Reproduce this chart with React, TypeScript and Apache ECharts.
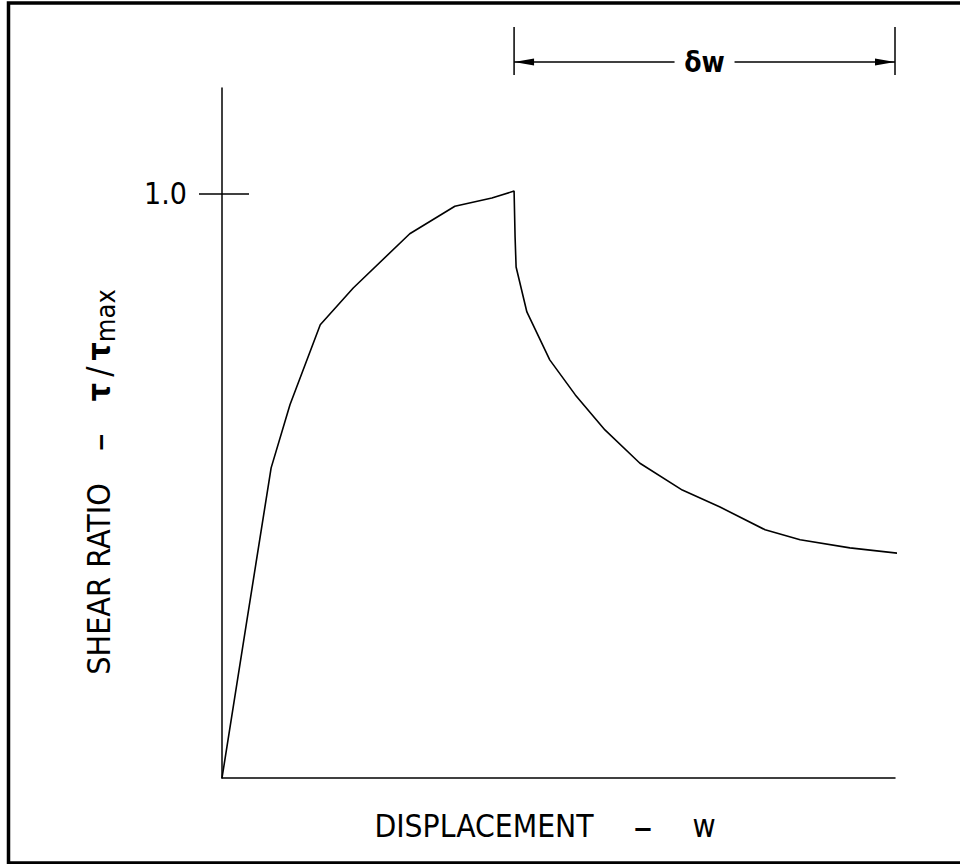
import React, { useEffect, useRef } from "react";
import * as echarts from "echarts";

// Displacement w (arbitrary units, axis spans 0..100) and shear ratio tau/tau_max
const displacement = [0, 3.7, 7.3, 10.1, 14.6, 19.5, 27.9, 34.6, 40.1, 43.4, 43.55, 43.7, 45.3, 48.7, 52.5, 56.9, 62.1, 68.4, 74.0, 80.7, 85.9, 93.3, 100.4];
const shearRatio = [0, 0.27, 0.531, 0.639, 0.776, 0.839, 0.932, 0.979, 0.993, 1.005, 0.926, 0.875, 0.798, 0.716, 0.656, 0.596, 0.539, 0.493, 0.464, 0.425, 0.408, 0.394, 0.385];

const xMax = 100;
const yMax = 1.1815;
const yTickValues = [1.0];
const yTickLabels = ["1.0"];
const xTitleParts = ["DISPLACEMENT", "–", "w"];
const yTitleParts = ["SHEAR RATIO", "–", "τ", "/", "τ", "max"];
const dimLabel = "δw";

const FONT = "'Liberation Sans Narrow', 'DejaVu Sans Condensed', 'Liberation Sans', sans-serif";
const BLACK = "#000";

export default function App() {
  const ref = useRef<HTMLDivElement>(null);

  useEffect(() => {
    if (!ref.current) return;
    const chart = echarts.init(ref.current, undefined, { renderer: "svg" });
    const axisLineStyle = { color: BLACK, width: 1.5 };
    chart.setOption({
      animation: false,
      backgroundColor: "#fff",
      grid: { left: 222, right: 65, top: 88, bottom: 86, containLabel: false, outerBoundsMode: "none" },
      xAxis: {
        type: "value",
        min: 0,
        max: xMax,
        axisLine: { show: true, onZero: false, lineStyle: axisLineStyle },
        axisTick: { show: false },
        axisLabel: { show: false },
        splitLine: { show: false },
      },
      yAxis: [
        {
          type: "value",
          min: 0,
          max: yMax,
          axisLine: { show: true, onZero: false, lineStyle: axisLineStyle },
          axisTick: { show: true, customValues: yTickValues, length: 23, lineStyle: axisLineStyle },
          axisLabel: {
            show: true,
            customValues: yTickValues,
            formatter: (v: number) => {
              const i = yTickValues.indexOf(v);
              return i >= 0 ? yTickLabels[i] : "";
            },
            fontSize: 30,
            fontFamily: FONT,
            color: BLACK,
            margin: 35,
          },
          splitLine: { show: false },
        },
        {
          type: "value",
          min: 0,
          max: yMax,
          position: "left",
          axisLine: { show: false },
          axisTick: { show: true, inside: true, customValues: yTickValues, length: 27, lineStyle: axisLineStyle },
          axisLabel: { show: false },
          splitLine: { show: false },
        },
      ],
      series: [
        {
          type: "line",
          data: displacement.map((x, i) => [x, shearRatio[i]]),
          symbol: "none",
          clip: false,
          yAxisIndex: 0,
          lineStyle: { color: BLACK, width: 1.6 },
        },
      ],
    });

    // dimension line "δw" from the peak to the end of the axis
    let peakIdx = 0;
    shearRatio.forEach((v, i) => {
      if (v > shearRatio[peakIdx]) peakIdx = i;
    });
    const px0 = chart.convertToPixel({ xAxisIndex: 0 }, displacement[peakIdx]) as number;
    const px1 = chart.convertToPixel({ xAxisIndex: 0 }, xMax) as number;
    const mid = (px0 + px1) / 2;
    const dimY = 62;
    const thin = { stroke: BLACK, lineWidth: 1.5 };

    chart.setOption({
      graphic: [
        { type: "rect", silent: true, shape: { x: 8.5, y: 3, width: 1000, height: 860 }, style: { fill: "none", stroke: BLACK, lineWidth: 3.5 } },
        { type: "line", silent: true, shape: { x1: px0, y1: 27, x2: px0, y2: 75 }, style: thin },
        { type: "line", silent: true, shape: { x1: px1, y1: 27, x2: px1, y2: 75 }, style: thin },
        { type: "line", silent: true, shape: { x1: px0, y1: dimY, x2: mid - 30, y2: dimY }, style: thin },
        { type: "line", silent: true, shape: { x1: mid + 30, y1: dimY, x2: px1, y2: dimY }, style: thin },
        { type: "polygon", silent: true, shape: { points: [[px0, dimY], [px0 + 20, dimY - 3.5], [px0 + 20, dimY + 3.5]] }, style: { fill: BLACK } },
        { type: "polygon", silent: true, shape: { points: [[px1, dimY], [px1 - 20, dimY - 3.5], [px1 - 20, dimY + 3.5]] }, style: { fill: BLACK } },
        {
          type: "text",
          silent: true,
          x: mid,
          y: dimY,
          style: { text: dimLabel, fontSize: 28, fontWeight: "bold", fontFamily: FONT, fill: BLACK, align: "center", verticalAlign: "middle" },
        },
        {
          type: "text",
          silent: true,
          x: 545,
          y: 826,
          style: {
            text: `{n|${xTitleParts[0]}}{g| }{d|${xTitleParts[1]}}{g| }{n|${xTitleParts[2]}}`,
            align: "center",
            verticalAlign: "middle",
            rich: {
              n: { fontSize: 31.5, fontFamily: FONT, fill: BLACK, lineHeight: 36 },
              d: { fontSize: 42, fontFamily: FONT, fill: BLACK, lineHeight: 36 },
              g: { fontSize: 31.5, fontFamily: FONT, width: 40, lineHeight: 36 },
            },
          },
        },
        {
          type: "text",
          silent: true,
          x: 99,
          y: 482,
          rotation: Math.PI / 2,
          style: {
            text: `{n|${yTitleParts[0]}}{g| }{d|${yTitleParts[1]}}{g| }{t|${yTitleParts[2]}}{sl|${yTitleParts[3]}}{t|${yTitleParts[4]}}{s|${yTitleParts[5]}}`,
            align: "center",
            verticalAlign: "middle",
            rich: {
              n: { fontSize: 32, fontFamily: FONT, fill: BLACK, lineHeight: 40 },
              d: { fontSize: 40, fontFamily: FONT, fill: BLACK, lineHeight: 40 },
              g: { fontSize: 32, fontFamily: FONT, width: 32, lineHeight: 40 },
              t: { fontSize: 32, fontFamily: FONT, fontWeight: "bold", fill: BLACK, lineHeight: 40 },
              sl: { fontSize: 34, fontFamily: FONT, fill: BLACK, lineHeight: 40, padding: [0, 6, 0, 6] },
              s: { fontSize: 27, fontFamily: FONT, fill: BLACK, lineHeight: 30, verticalAlign: "bottom" },
            },
          },
        },
      ],
    });

    return () => chart.dispose();
  }, []);

  return <div ref={ref} style={{ position: "absolute", left: 0, top: 0, width: 960, height: 864 }} />;
}
